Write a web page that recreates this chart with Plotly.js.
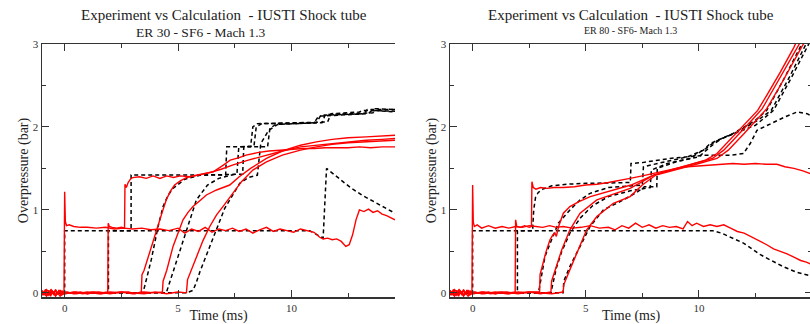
<!DOCTYPE html>
<html>
<head>
<meta charset="utf-8">
<script src="https://cdn.plot.ly/plotly-3.0.1.min.js"></script>
<style>html,body{margin:0;padding:0;overflow:hidden;background:#fff;}#chart{width:816px;height:324px;}</style>
</head>
<body>
<div id="chart"></div>
<script>
// ===== Data: [time (ms), overpressure (bar)] pairs =====
// ---- ER 30 - SF6 - Mach 1.3 (left panel) ----
const er30_g1_exp = [[-1,0.02],[-0.92,-0.03],[-0.85,0.04],[-0.77,-0.02],[-0.7,0.03],[-0.62,-0.04],[-0.55,0.02],[-0.47,-0.03],[-0.4,0.04],[-0.32,-0.02],[-0.25,0.03],[-0.17,-0.03],[-0.1,0.02],[-0.03,0.0],[0,1.22],[0.03,0.86],[0.08,0.81],[0.2,0.82],[0.4,0.8],[0.7,0.79],[1.0,0.79],[1.4,0.78],[1.8,0.79],[2.2,0.77],[2.6,0.78],[3.0,0.77],[3.4,0.78],[3.8,0.76],[4.2,0.77],[4.6,0.75],[5.0,0.78],[5.3,0.72],[5.6,0.77],[5.9,0.74],[6.2,0.79],[6.5,0.73],[6.8,0.77],[7.1,0.75],[7.4,0.78],[7.7,0.74],[8.0,0.77],[8.3,0.72],[8.6,0.76],[8.9,0.79],[9.2,0.74],[9.5,0.77],[9.8,0.75],[10.1,0.73],[10.4,0.77],[10.7,0.75],[11.0,0.73],[11.25,0.67],[11.4,0.65],[11.6,0.66],[11.8,0.64],[12.0,0.65],[12.2,0.62],[12.4,0.56],[12.55,0.58],[12.7,0.7],[12.85,0.88],[13.0,1.0],[13.2,0.98],[13.4,1.01],[13.6,0.97],[13.8,0.99],[14.0,0.95],[14.2,0.93],[14.4,0.9],[14.57,0.88]];
const er30_g1_calc = [[-1,0],[0,0],[0,0.75],[10.8,0.75],[11.0,0.72],[11.4,0.66],[11.55,1.5],[12.1,1.38],[12.6,1.27],[13.1,1.18],[13.6,1.1],[14.1,1.03],[14.57,0.96]];
const er30_g2_exp = [[-1,-0.02],[-0.85,0.03],[-0.7,-0.03],[-0.55,0.02],[-0.4,-0.04],[-0.25,0.03],[-0.1,-0.02],[0.1,0.01],[0.4,-0.01],[0.7,0.01],[1.0,-0.01],[1.3,0.01],[1.6,0.0],[1.9,0.01],[1.92,0.84],[1.97,0.8],[2.1,0.79],[2.3,0.78],[2.5,0.79],[2.64,0.78],[2.66,1.31],[2.72,1.27],[2.8,1.33],[2.9,1.37],[3.0,1.39],[3.3,1.4],[3.6,1.38],[3.9,1.41],[4.2,1.38],[4.5,1.41],[4.8,1.39],[5.1,1.41],[5.5,1.4],[6.0,1.43],[6.55,1.46],[7.0,1.54],[7.3,1.6],[7.7,1.63],[8.0,1.66],[8.5,1.69],[9.0,1.71],[9.5,1.72],[10.0,1.73],[10.5,1.74],[11.0,1.74],[11.5,1.75],[12.0,1.75],[12.5,1.75],[13.0,1.76],[13.5,1.75],[14.0,1.76],[14.57,1.76]];
const er30_g2_calc = [[-1,0],[1.93,0],[1.93,0.75],[2.93,0.75],[2.93,1.42],[7.1,1.42],[7.15,1.76],[8.95,1.76],[9.05,1.98],[9.3,2.03],[11.1,2.05],[11.3,2.14],[13.2,2.16],[13.35,2.21],[14.57,2.21]];
const er30_g3_exp = [[-1,0.03],[-0.8,-0.03],[-0.6,0.04],[-0.4,-0.02],[-0.2,0.03],[0,-0.01],[0.4,0.01],[0.8,-0.01],[1.2,0.01],[1.6,-0.01],[2.0,0.01],[2.4,0.0],[2.8,0.01],[3.1,-0.01],[3.38,0.01],[3.41,0.22],[3.5,0.27],[3.7,0.45],[3.9,0.6],[4.12,0.8],[4.3,0.97],[4.48,1.12],[4.65,1.22],[4.85,1.3],[5.1,1.35],[5.37,1.39],[5.9,1.42],[6.4,1.45],[6.9,1.49],[7.4,1.54],[8.1,1.6],[8.9,1.66],[9.6,1.71],[10.4,1.76],[11.1,1.78],[11.8,1.8],[12.5,1.82],[13.3,1.84],[14.0,1.85],[14.57,1.86]];
const er30_g3_calc = [[-1,0],[3.45,0],[3.53,0.08],[3.68,0.24],[3.82,0.4],[3.97,0.6],[4.12,0.8],[4.34,1.04],[4.55,1.17],[4.78,1.26],[5.3,1.37],[6.0,1.42],[7.85,1.43],[7.9,1.76],[8.2,1.76],[8.3,2.0],[8.5,2.04],[11.35,2.05],[11.5,2.15],[13.6,2.17],[13.7,2.22],[14.57,2.21]];
const er30_g4_exp = [[-1,-0.03],[-0.8,0.04],[-0.6,-0.02],[-0.4,0.03],[-0.2,-0.04],[0,0.01],[0.5,-0.01],[1.0,0.01],[1.5,-0.01],[2.0,0.0],[2.5,0.01],[3.0,-0.01],[3.5,0.01],[4.0,0.0],[4.31,0.01],[4.34,0.14],[4.5,0.27],[4.78,0.56],[5.0,0.73],[5.22,0.88],[5.44,0.97],[5.66,1.04],[6.0,1.12],[6.25,1.18],[6.7,1.24],[7.28,1.3],[7.7,1.4],[8.2,1.5],[8.9,1.62],[9.6,1.71],[10.4,1.78],[11.1,1.82],[11.8,1.85],[12.5,1.87],[13.3,1.88],[14.0,1.89],[14.57,1.9]];
const er30_g4_calc = [[-1,0],[4.48,0],[4.6,0.1],[4.8,0.27],[5.07,0.52],[5.4,0.8],[5.81,1.12],[6.3,1.3],[6.8,1.38],[7.5,1.43],[7.6,1.44],[7.68,1.76],[8.35,1.77],[8.45,2.0],[8.7,2.04],[11.6,2.06],[11.75,2.16],[13.0,2.18],[13.15,2.2],[14.57,2.19]];
const er30_g5_exp = [[-1,0.02],[-0.8,-0.04],[-0.6,0.03],[-0.4,-0.03],[-0.2,0.02],[0,-0.01],[0.5,0.01],[1.0,-0.01],[1.5,0.01],[2.0,-0.01],[2.5,0.01],[3.0,0.0],[3.5,-0.01],[4.0,0.01],[4.5,-0.01],[5.0,0.01],[5.37,0.0],[5.42,0.16],[5.6,0.28],[5.81,0.44],[6.1,0.63],[6.4,0.8],[6.7,0.94],[6.98,1.04],[7.42,1.2],[7.8,1.34],[8.3,1.48],[8.9,1.58],[9.6,1.66],[10.4,1.72],[11.1,1.76],[11.8,1.79],[12.5,1.81],[13.3,1.82],[14.0,1.83],[14.57,1.84]];
const er30_g5_calc = [[-1,0],[5.37,0],[5.66,0.03],[5.8,0.12],[5.96,0.25],[6.25,0.45],[6.69,0.76],[7.06,1.02],[7.28,1.12],[7.72,1.32],[8.1,1.39],[8.5,1.42],[8.65,1.8],[9.0,1.96],[9.4,2.03],[11.0,2.05],[11.2,2.13],[13.4,2.16],[13.55,2.2],[14.57,2.18]];

// ---- ER 80 - SF6 - Mach 1.3 (right panel) ----
const er80_g1_exp = [[-1,0.03],[-0.92,-0.03],[-0.85,0.04],[-0.77,-0.02],[-0.7,0.03],[-0.62,-0.04],[-0.55,0.02],[-0.47,-0.03],[-0.4,0.04],[-0.32,-0.02],[-0.25,0.03],[-0.17,-0.03],[-0.1,0.02],[-0.03,0.0],[0,1.3],[0.03,0.85],[0.08,0.8],[0.2,0.82],[0.4,0.78],[0.7,0.81],[1.0,0.78],[1.3,0.8],[1.6,0.78],[1.9,0.8],[2.2,0.79],[2.5,0.81],[2.8,0.8],[3.1,0.79],[3.4,0.81],[3.7,0.79],[4.0,0.8],[4.4,0.78],[4.8,0.79],[5.2,0.81],[5.6,0.78],[6.0,0.79],[6.3,0.76],[6.6,0.81],[6.9,0.78],[7.2,0.84],[7.5,0.79],[7.8,0.82],[8.1,0.78],[8.4,0.81],[8.7,0.79],[9.0,0.8],[9.3,0.77],[9.5,0.86],[9.7,0.81],[9.9,0.84],[10.2,0.8],[10.5,0.82],[10.8,0.8],[11.1,0.82],[11.4,0.78],[11.7,0.74],[12.0,0.72],[12.3,0.68],[12.7,0.62],[13.0,0.58],[13.3,0.53],[13.6,0.5],[13.9,0.47],[14.2,0.43],[14.5,0.39],[14.75,0.37],[15,0.34]];
const er80_g1_calc = [[-1,0],[0,0],[0,0.75],[10.6,0.75],[11.0,0.72],[11.5,0.66],[11.97,0.6],[12.4,0.52],[12.72,0.46],[13.2,0.39],[13.7,0.32],[14.3,0.25],[14.93,0.2],[15,0.2]];
const er80_g2_exp = [[-1,-0.02],[-0.85,0.03],[-0.7,-0.03],[-0.55,0.02],[-0.4,-0.04],[-0.25,0.03],[-0.1,-0.02],[0.1,0.01],[0.4,-0.01],[0.7,0.01],[1.0,-0.01],[1.3,0.01],[1.6,0.0],[1.88,0.01],[1.9,0.88],[1.95,0.8],[2.1,0.79],[2.3,0.81],[2.5,0.79],[2.6,0.8],[2.62,1.34],[2.68,1.27],[2.8,1.25],[3.0,1.27],[3.3,1.26],[3.6,1.27],[4.0,1.27],[4.5,1.28],[5.0,1.3],[5.5,1.31],[6.0,1.33],[6.5,1.36],[6.96,1.38],[7.5,1.41],[8.0,1.44],[8.5,1.47],[9.0,1.5],[9.5,1.52],[10.0,1.53],[10.5,1.54],[11.0,1.55],[11.5,1.56],[12.0,1.55],[12.5,1.56],[13.0,1.55],[13.45,1.55],[13.8,1.52],[14.2,1.5],[14.6,1.47],[15,1.43]];
const er80_g2_calc = [[-1,0],[1.98,0],[1.98,0.75],[2.66,0.75],[2.66,0.8],[2.7,1.0],[2.78,1.15],[2.9,1.21],[3.1,1.25],[3.5,1.29],[4.2,1.31],[5.0,1.32],[6.97,1.33],[7.0,1.56],[7.5,1.57],[8.7,1.62],[10.35,1.66],[11.4,1.66],[11.97,1.68],[12.27,1.8],[12.57,1.96],[13.16,2.04],[13.8,2.12],[14.34,2.18],[14.78,2.16],[15,2.13]];
const er80_g3_exp = [[-1,0.03],[-0.8,-0.03],[-0.6,0.04],[-0.4,-0.02],[-0.2,0.03],[0,-0.01],[0.4,0.01],[0.8,-0.01],[1.2,0.01],[1.6,-0.01],[2.0,0.01],[2.4,0.0],[2.7,0.01],[2.96,0.01],[2.98,0.22],[3.1,0.35],[3.25,0.5],[3.42,0.64],[3.55,0.7],[3.64,0.72],[3.7,0.68],[3.8,0.8],[4.01,0.96],[4.3,1.04],[4.7,1.1],[5.2,1.16],[6.0,1.22],[7.0,1.3],[8.0,1.42],[9.0,1.5],[9.8,1.56],[10.3,1.6],[10.8,1.68],[11.5,1.88],[12.2,2.08],[12.6,2.2],[13.0,2.38],[13.6,2.66],[14.2,2.96],[14.3,3.02]];
const er80_g3_calc = [[-1,0],[2.9,0],[2.95,0.06],[3.2,0.44],[3.49,0.64],[3.79,0.84],[4.3,1.0],[4.75,1.12],[5.19,1.2],[6.0,1.27],[7.5,1.3],[7.55,1.52],[8.5,1.58],[9.5,1.64],[10.2,1.72],[10.5,1.8],[11.5,1.92],[12.5,2.08],[13.0,2.2],[13.8,2.6],[14.55,3.0],[14.65,3.05]];
const er80_g4_exp = [[-1,-0.03],[-0.8,0.04],[-0.6,-0.02],[-0.4,0.03],[-0.2,-0.04],[0,0.01],[0.5,-0.01],[1.0,0.01],[1.5,-0.01],[2.0,0.0],[2.5,0.01],[3.0,-0.01],[3.46,0.01],[3.49,0.14],[3.7,0.33],[3.94,0.52],[4.3,0.76],[4.75,0.96],[5.49,1.12],[6.37,1.2],[6.96,1.26],[7.5,1.34],[8.0,1.42],[9.0,1.5],[10.0,1.57],[10.6,1.62],[11.1,1.72],[11.8,1.92],[12.4,2.1],[12.8,2.22],[13.4,2.5],[14.0,2.78],[14.4,2.98],[14.5,3.03]];
const er80_g4_calc = [[-1,0],[3.46,0],[3.5,0.05],[3.7,0.3],[3.94,0.5],[4.3,0.72],[4.75,0.9],[5.3,1.05],[6.0,1.16],[6.96,1.23],[7.85,1.27],[7.9,1.48],[8.6,1.56],[9.6,1.62],[10.3,1.74],[10.7,1.82],[11.7,1.94],[12.6,2.08],[13.2,2.2],[14.0,2.6],[14.7,2.98],[14.78,3.03]];
const er80_g5_exp = [[-1,0.02],[-0.8,-0.04],[-0.6,0.03],[-0.4,-0.03],[-0.2,0.02],[0,-0.01],[0.5,0.01],[1.0,-0.01],[1.5,0.01],[2.0,-0.01],[2.5,0.01],[3.0,0.0],[3.5,-0.01],[4.0,0.01],[4.03,0.1],[4.3,0.28],[4.6,0.48],[5.04,0.76],[5.49,0.92],[6.22,1.08],[6.96,1.16],[7.5,1.3],[8.1,1.42],[9.0,1.49],[10.0,1.56],[10.8,1.62],[11.3,1.72],[12.0,1.92],[12.6,2.1],[13.0,2.22],[13.6,2.5],[14.2,2.8],[14.6,2.99],[14.7,3.04]];
const er80_g5_calc = [[-1,0],[4.0,0],[4.03,0.14],[4.3,0.32],[4.75,0.56],[5.19,0.8],[5.78,1.0],[6.66,1.12],[7.3,1.22],[7.6,1.28],[8.14,1.28],[8.16,1.5],[9.0,1.58],[10.0,1.64],[10.5,1.76],[11.0,1.86],[12.5,2.02],[13.3,2.2],[14.1,2.6],[14.85,3.0],[14.95,3.05]];

// ---- Text ----
const mainTitle = 'Experiment vs Calculation  - IUSTI Shock tube';
const leftSubtitle = 'ER 30 - SF6 - Mach 1.3';
const rightSubtitle = 'ER 80 - SF6- Mach 1.3';
const xTitle = 'Time (ms)';
const yTitle = 'Overpressure (bar)';

// ===== Build traces =====
const W = 816, H = 324;
const fx = v => v / W;          // pixel -> paper x
const fy = v => 1 - v / H;      // pixel -> paper y
const FONT = 'Liberation Serif, Times New Roman, serif';

function expTrace(pairs, xa, ya) {
  return {x: pairs.map(p => p[0]), y: pairs.map(p => p[1]), xaxis: xa, yaxis: ya,
    type: 'scatter', mode: 'lines', line: {color: '#ff0000', width: 1.4}, hoverinfo: 'skip'};
}
function calcTrace(pairs, xa, ya) {
  return {x: pairs.map(p => p[0]), y: pairs.map(p => p[1]), xaxis: xa, yaxis: ya,
    type: 'scatter', mode: 'lines', line: {color: '#000000', width: 1.5, dash: '4px,3px'}, hoverinfo: 'skip'};
}
const left = [
  [er30_g1_exp, er30_g1_calc], [er30_g2_exp, er30_g2_calc], [er30_g3_exp, er30_g3_calc],
  [er30_g4_exp, er30_g4_calc], [er30_g5_exp, er30_g5_calc]];
const right = [
  [er80_g1_exp, er80_g1_calc], [er80_g2_exp, er80_g2_calc], [er80_g3_exp, er80_g3_calc],
  [er80_g4_exp, er80_g4_calc], [er80_g5_exp, er80_g5_calc]];

const traces = [];
left.forEach(g => traces.push(calcTrace(g[1], 'x', 'y')));
left.forEach(g => traces.push(expTrace(g[0], 'x', 'y')));
right.forEach(g => traces.push(calcTrace(g[1], 'x2', 'y2')));
right.forEach(g => traces.push(expTrace(g[0], 'x2', 'y2')));

function axisBase(extra) {
  return Object.assign({
    showline: true, linecolor: '#333', linewidth: 1.5,
    ticks: 'inside', ticklen: 7, tickwidth: 1, tickcolor: '#333',
    showgrid: false, zeroline: false, fixedrange: true,
    tickfont: {family: FONT, size: 11, color: '#333'}
  }, extra);
}
const xMinor = {ticks: 'inside', ticklen: 4, dtick: 2.5, tick0: 0, tickcolor: '#333', showgrid: false};
const yMinor = {ticks: 'inside', ticklen: 4, dtick: 0.5, tick0: 0, tickcolor: '#333', showgrid: false};

const layout = {
  width: W, height: H,
  margin: {l: 0, r: 0, t: 0, b: 0},
  paper_bgcolor: '#fff', plot_bgcolor: '#fff',
  showlegend: false,
  font: {family: FONT, color: '#333'},
  xaxis: axisBase({domain: [fx(42), fx(395)], range: [-1, 14.57], dtick: 5, tick0: 0, mirror: 'ticks', anchor: 'y', minor: xMinor,
    title: {text: xTitle, font: {family: FONT, size: 14, color: '#222'}, standoff: 2}}),
  yaxis: axisBase({domain: [fy(297), fy(44)], range: [-0.05, 3], dtick: 1, tick0: 0, mirror: false, anchor: 'x', minor: yMinor,
    title: {text: yTitle, font: {family: FONT, size: 14, color: '#222'}, standoff: 1}}),
  xaxis2: axisBase({domain: [fx(450), fx(812)], range: [-1, 15], dtick: 5, tick0: 0, mirror: 'ticks', anchor: 'y2', minor: xMinor,
    title: {text: xTitle, font: {family: FONT, size: 14, color: '#222'}, standoff: 2}}),
  yaxis2: axisBase({domain: [fy(297), fy(44)], range: [-0.05, 3], dtick: 1, tick0: 0, mirror: 'ticks', anchor: 'x2', minor: yMinor,
    title: {text: yTitle, font: {family: FONT, size: 14, color: '#222'}, standoff: 1}}),
  annotations: [
    {text: mainTitle, xref: 'paper', yref: 'paper', x: fx(224), y: fy(15), xanchor: 'center', yanchor: 'middle', showarrow: false,
      font: {family: FONT, size: 15, color: '#222'}},
    {text: leftSubtitle, xref: 'paper', yref: 'paper', x: fx(201), y: fy(32), xanchor: 'center', yanchor: 'middle', showarrow: false,
      font: {family: FONT, size: 13.5, color: '#222'}},
    {text: mainTitle, xref: 'paper', yref: 'paper', x: fx(631), y: fy(15), xanchor: 'center', yanchor: 'middle', showarrow: false,
      font: {family: FONT, size: 15, color: '#222'}},
    {text: rightSubtitle, xref: 'paper', yref: 'paper', x: fx(630), y: fy(31), xanchor: 'center', yanchor: 'middle', showarrow: false,
      font: {family: FONT, size: 10, color: '#222'}}
  ]
};

Plotly.newPlot('chart', traces, layout, {staticPlot: true, displayModeBar: false});
</script>
</body>
</html>
